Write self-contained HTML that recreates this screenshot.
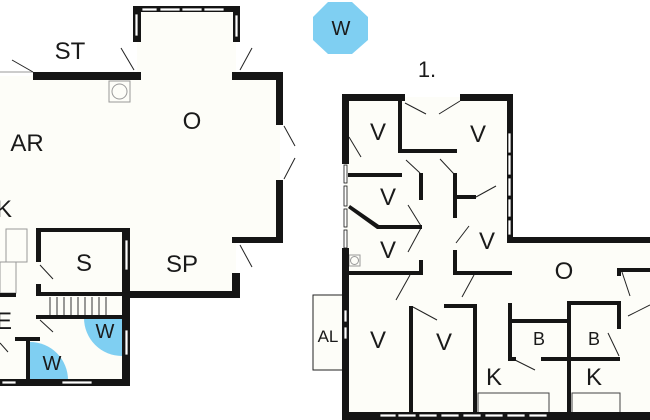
<!DOCTYPE html>
<html><head><meta charset="utf-8"><style>
html,body{margin:0;padding:0;background:#fff;}
svg{display:block;}
text{font-family:"Liberation Sans",sans-serif;fill:#1a1a1a;text-anchor:middle;}
</style></head><body>
<svg width="650" height="420" viewBox="0 0 650 420" xmlns="http://www.w3.org/2000/svg">
<!-- floor fills -->
<g fill="#fdfdf8">
<polygon points="0,76 137,76 137,9 236,9 236,76 280,76 280,240 236,240 236,295 126,295 126,383 0,383"/>
<polygon points="345,97 510,97 510,240 650,240 650,416 345,416"/>
<rect x="313" y="295" width="30" height="75"/>
</g>
<!-- blue quarter circles -->
<path d="M122,318 L84,318 A38,38 0 0 0 122,356 Z" fill="#7fcff2"/>
<path d="M30,380 L30,342 A38,38 0 0 1 68,380 Z" fill="#7fcff2"/>
<polygon points="328,2 352,2 368,17 368,40 352,54 328,54 313,40 313,17" fill="#7fcff2"/>
<!-- thin lines -->
<g stroke="#999" stroke-width="1" fill="none">
<line x1="0" y1="72" x2="33" y2="72"/>
<rect x="109" y="81" width="21" height="21"/>
<circle cx="119.5" cy="91.5" r="7.5"/>
<rect x="6" y="229" width="21" height="33"/>
<rect x="0" y="262" width="16" height="31"/>
<rect x="313" y="295" width="30" height="75" stroke="#222"/>
<rect x="349" y="255" width="11" height="11"/>
<circle cx="354.5" cy="260.5" r="4"/>
<polyline points="478,412 478,393 549,393 549,412" stroke="#444"/>
<polyline points="572,412 572,393 620,393 620,412" stroke="#444"/>
</g>
<!-- door swings -->
<g stroke="#222" stroke-width="1">
<line x1="12" y1="60" x2="33" y2="72"/><line x1="121" y1="48" x2="134" y2="70"/>
<line x1="252" y1="48" x2="240" y2="70"/><line x1="284" y1="126" x2="295" y2="146"/>
<line x1="284" y1="179" x2="295" y2="158"/><line x1="240" y1="245" x2="252" y2="267"/>
<line x1="40" y1="265" x2="53" y2="279"/><line x1="40" y1="320" x2="53" y2="332"/>
<line x1="0" y1="343" x2="8" y2="352"/>
<line x1="405" y1="103" x2="426" y2="114"/><line x1="460" y1="101" x2="439" y2="114"/>
<line x1="349" y1="137" x2="361" y2="157"/><line x1="406" y1="160" x2="420" y2="173"/>
<line x1="440" y1="159" x2="454" y2="174"/><line x1="476" y1="197" x2="496" y2="186"/>
<line x1="408" y1="205" x2="421" y2="226"/><line x1="408" y1="252" x2="421" y2="228"/>
<line x1="456" y1="243" x2="469" y2="226"/><line x1="396" y1="300" x2="410" y2="275"/>
<line x1="462" y1="297" x2="474" y2="275"/><line x1="413" y1="307" x2="437" y2="320"/>
<line x1="513" y1="359" x2="535" y2="370"/><line x1="608" y1="333" x2="619" y2="356"/>
<line x1="622" y1="272" x2="630" y2="296"/><line x1="628" y1="316" x2="650" y2="305"/>
</g>
<!-- walls -->
<g fill="#151515">
<rect x="33" y="72" width="108" height="8"/>
<rect x="133" y="6" width="8" height="36"/><rect x="133" y="6" width="107" height="6"/><rect x="233" y="6" width="7" height="36"/>
<rect x="232" y="72" width="51" height="8"/><rect x="276" y="72" width="7" height="53"/><rect x="276" y="180" width="7" height="63"/>
<rect x="232" y="237" width="51" height="6"/><rect x="232" y="273" width="8" height="25"/>
<rect x="128" y="291" width="112" height="7"/>
<rect x="36" y="228" width="94" height="4"/><rect x="36" y="228" width="5" height="34"/><rect x="36" y="284" width="5" height="11"/>
<rect x="122" y="228" width="8" height="158"/><rect x="36" y="292" width="92" height="4"/><rect x="0" y="293" width="16" height="4"/>
<rect x="36" y="315" width="92" height="4"/><rect x="15" y="337" width="25" height="4"/><rect x="26" y="337" width="4" height="48"/>
<rect x="0" y="379" width="130" height="7"/>
<!-- right building -->
<rect x="342" y="94" width="63" height="7"/><rect x="460" y="94" width="53" height="7"/>
<rect x="342" y="94" width="7" height="70"/><rect x="342" y="248" width="7" height="172"/>
<rect x="507" y="94" width="6" height="149"/><rect x="507" y="237" width="143" height="6"/>
<rect x="342" y="412" width="308" height="8"/>
<rect x="398" y="100" width="4" height="52"/><rect x="398" y="149" width="59" height="4"/>
<rect x="348" y="173" width="54" height="4"/>
<rect x="419" y="173" width="4" height="27"/><rect x="419" y="260" width="4" height="14"/>
<polygon points="348,208 350,205 379,225 422,225 422,229 377,229"/>
<rect x="348" y="271" width="75" height="4"/>
<rect x="453" y="173" width="4" height="45"/><rect x="453" y="250" width="4" height="24"/>
<rect x="453" y="195" width="23" height="4"/><rect x="453" y="271" width="59" height="4"/>
<rect x="409" y="306" width="4" height="106"/><rect x="444" y="304" width="33" height="4"/><rect x="473" y="304" width="4" height="108"/>
<rect x="508" y="303" width="4" height="58"/><rect x="508" y="319" width="62" height="4"/>
<rect x="567" y="302" width="4" height="110"/><rect x="567" y="301" width="53" height="4"/>
<rect x="617" y="301" width="4" height="28"/><rect x="541" y="357" width="79" height="4"/><rect x="508" y="357" width="8" height="4"/>
<rect x="617" y="268" width="33" height="4"/><rect x="617" y="268" width="4" height="8"/>
</g>
<!-- windows -->
<g fill="#fff" stroke="#151515" stroke-width="0.8">
<rect x="142" y="8" width="15" height="3"/><rect x="160" y="8" width="20" height="3"/><rect x="182" y="8" width="20" height="3"/><rect x="204" y="8" width="20" height="3"/>
<rect x="135" y="14" width="3" height="22"/><rect x="235" y="15" width="3" height="22"/>
<rect x="125" y="240" width="3" height="30"/><rect x="125" y="330" width="3" height="25"/>
<rect x="2" y="381" width="14" height="3"/><rect x="62" y="381" width="30" height="3"/>
<rect x="344" y="165" width="3" height="18"/><rect x="344" y="186" width="3" height="20"/><rect x="344" y="209" width="3" height="18"/><rect x="344" y="230" width="3" height="18"/>
<rect x="344" y="310" width="3" height="12"/><rect x="344" y="327" width="3" height="12"/>
<rect x="508" y="133" width="3" height="20"/><rect x="508" y="155" width="3" height="20"/><rect x="508" y="178" width="3" height="18"/><rect x="508" y="199" width="3" height="18"/><rect x="508" y="220" width="3" height="15"/>
<rect x="380" y="414" width="16" height="3"/><rect x="398" y="414" width="18" height="3"/><rect x="419" y="414" width="18" height="3"/><rect x="441" y="414" width="18" height="3"/><rect x="463" y="414" width="18" height="3"/><rect x="485" y="414" width="18" height="3"/><rect x="507" y="414" width="18" height="3"/><rect x="529" y="414" width="18" height="3"/>
</g>
<!-- stairs -->
<g stroke="#333" stroke-width="1">
<line x1="50" y1="297" x2="50" y2="315"/><line x1="57" y1="297" x2="57" y2="315"/><line x1="64" y1="297" x2="64" y2="315"/><line x1="71" y1="297" x2="71" y2="315"/><line x1="78" y1="297" x2="78" y2="315"/><line x1="85" y1="297" x2="85" y2="315"/><line x1="92" y1="297" x2="92" y2="315"/><line x1="99" y1="297" x2="99" y2="315"/><line x1="106" y1="297" x2="106" y2="315"/>
</g>
<!-- labels -->
<g font-size="24">
<text x="70" y="59">ST</text><text x="192" y="129">O</text><text x="27" y="151">AR</text>
<text x="4" y="217">K</text><text x="84" y="271">S</text><text x="182" y="272">SP</text><text x="4" y="329">E</text>
<text x="378" y="140">V</text><text x="478" y="142">V</text><text x="388" y="205">V</text><text x="388" y="258">V</text>
<text x="487" y="249">V</text><text x="564" y="279">O</text><text x="378" y="348">V</text><text x="444" y="350">V</text>
<text x="494" y="385">K</text><text x="594" y="385">K</text>
<text x="427" y="77" font-size="22">1.</text>
</g>
<g font-size="20">
<text x="105" y="338">W</text><text x="52" y="370">W</text><text x="341" y="35">W</text>
<text x="328" y="342" font-size="17">AL</text>
<text x="539" y="345" font-size="18">B</text><text x="594" y="345" font-size="18">B</text>
</g>
</svg>
</body></html>
